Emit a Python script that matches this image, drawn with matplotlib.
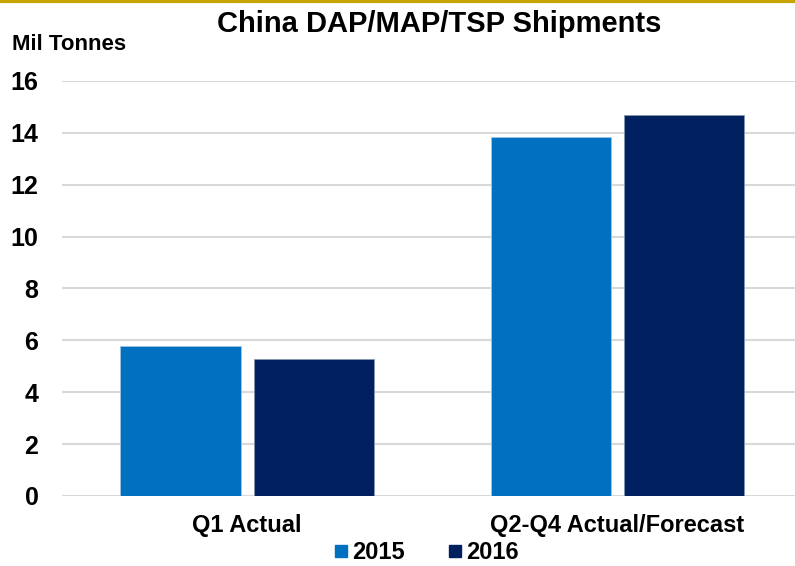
import numpy as np
import matplotlib.pyplot as plt
from matplotlib.lines import Line2D

categories = ['Q1 Actual', 'Q2-Q4 Actual/Forecast']
series_names = ['2015', '2016']
vals_2015 = [5.8, 13.85]
vals_2016 = [5.3, 14.7]
yticks = [0, 2, 4, 6, 8, 10, 12, 14, 16]

colors = ['#0070C0', '#002060']

plt.rcParams['font.family'] = ['Liberation Sans', 'DejaVu Sans']
plt.rcParams['font.weight'] = 'bold'

fig = plt.figure(figsize=(7.95, 5.66), dpi=100)
ax = fig.add_axes([0.078, 0.1237, 0.922, 0.7333])

x = np.arange(len(categories))
w = 0.325
ax.bar(x - 0.18, vals_2015, w, color=colors[0], edgecolor='#9DC3E6', linewidth=0.6, zorder=3)
ax.bar(x + 0.18, vals_2016, w, color=colors[1], edgecolor='#8497B0', linewidth=0.6, zorder=3)

ax.set_ylim(0, 16)
ax.set_xlim(-0.50, 1.48)
ax.set_yticks(yticks)
ax.set_xticks(x)
ax.set_xticklabels(categories, fontsize=17, fontweight='bold')
ax.tick_params(axis='y', labelsize=18, length=0, pad=17)
ax.tick_params(axis='x', length=0, pad=13)
for lab in ax.get_yticklabels():
    lab.set_fontweight('bold')

ax.grid(axis='y', color='#D9D9D9', linewidth=1.5, zorder=0)
for s in ax.spines.values():
    s.set_visible(False)

fig.text(0.553, 0.957, 'China DAP/MAP/TSP Shipments', ha='center', va='center',
         fontsize=21, fontweight='bold')
fig.text(0.015, 0.921, 'Mil Tonnes', ha='left', va='center', fontsize=16, fontweight='bold')

handles = [Line2D([], [], marker='s', linestyle='none', markersize=8, color=c) for c in colors]
fig.legend(handles, series_names, loc='center', bbox_to_anchor=(0.532, 0.024), ncol=2,
           frameon=False, handletextpad=-0.1, columnspacing=1.5, handlelength=1.2,
           prop={'weight': 'bold', 'size': 17})

# gold line across the top
fig.add_artist(Line2D([0, 1], [0.998, 0.998], transform=fig.transFigure, color='#C8A400', linewidth=3))

fig.savefig('out.png', dpi=100)
